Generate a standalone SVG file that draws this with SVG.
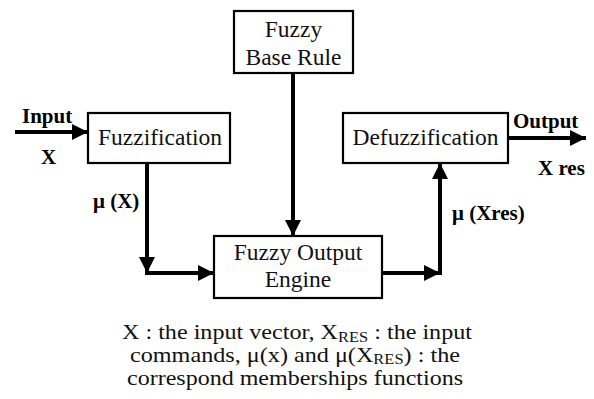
<svg xmlns="http://www.w3.org/2000/svg" width="594" height="399" viewBox="0 0 594 399">
  <style>
    text { font-family: "Liberation Serif", Tinos, "Times New Roman", Times, "DejaVu Serif", "Noto Serif", serif; }
    .box { fill: #fff; stroke: #000; stroke-width: 2.2; }
    .lbl { font-size: 23.5px; fill: #111; text-anchor: middle; }
    .sig { font-size: 21px; font-weight: bold; fill: #000; }
    .cap { font-size: 22px; fill: #111; text-anchor: middle; }
    .sub { font-size: 15px; }
    .wire { fill: none; stroke: #000; stroke-width: 4; }
  </style>
  <defs>
    <marker id="head" viewBox="0 0 10 10" refX="10" refY="5" markerUnits="userSpaceOnUse" markerWidth="16" markerHeight="16" orient="auto">
      <path d="M0,0 L10,5 L0,10 Z" fill="#000"/>
    </marker>
  </defs>
  <rect width="594" height="399" fill="#fff"/>

  <g id="connectors">
    <line class="wire" x1="15" y1="132" x2="88" y2="132" marker-end="url(#head)"/>
    <line class="wire" x1="293" y1="73" x2="293" y2="236" marker-end="url(#head)"/>
    <line class="wire" x1="147" y1="163" x2="147" y2="273" marker-end="url(#head)"/>
    <line class="wire" x1="145" y1="273" x2="214" y2="273" marker-end="url(#head)"/>
    <line class="wire" x1="382" y1="273" x2="440" y2="273" marker-end="url(#head)"/>
    <line class="wire" x1="440" y1="275" x2="440" y2="163" marker-end="url(#head)"/>
    <line class="wire" x1="508" y1="138" x2="586" y2="138" marker-end="url(#head)"/>
    <text class="sig" x="22" y="123">Input</text>
    <text class="sig" x="41" y="164">X</text>
    <text class="sig" x="93" y="208">μ (X)</text>
    <text class="sig" x="452" y="220">μ (Xres)</text>
    <text class="sig" x="513" y="128">Output</text>
    <text class="sig" x="538" y="175">X res</text>
  </g>

  <g id="base-rule">
    <rect class="box" x="234" y="11" width="119" height="62"/>
    <text class="lbl" x="293.5" y="37">Fuzzy</text>
    <text class="lbl" x="293.5" y="65">Base Rule</text>
  </g>

  <g id="fuzzification">
    <rect class="box" x="88" y="113" width="142" height="50"/>
    <text class="lbl" x="160" y="145">Fuzzification</text>
  </g>

  <g id="defuzzification">
    <rect class="box" x="343" y="113" width="165" height="50"/>
    <text class="lbl" x="425.5" y="145">Defuzzification</text>
  </g>

  <g id="output-engine">
    <rect class="box" x="214" y="236" width="168" height="62"/>
    <text class="lbl" x="298" y="260">Fuzzy Output</text>
    <text class="lbl" x="298" y="287">Engine</text>
  </g>

  <g id="caption">
    <text class="cap" x="297" y="339" textLength="350" lengthAdjust="spacingAndGlyphs">X : the input vector, X<tspan class="sub" baseline-shift="-3">RES</tspan> : the input</text>
    <text class="cap" x="295" y="362" textLength="330" lengthAdjust="spacingAndGlyphs">commands, μ(x) and μ(X<tspan class="sub" baseline-shift="-2">RES</tspan>) : the</text>
    <text class="cap" x="295" y="385" textLength="336" lengthAdjust="spacingAndGlyphs">correspond memberships functions</text>
  </g>
</svg>
